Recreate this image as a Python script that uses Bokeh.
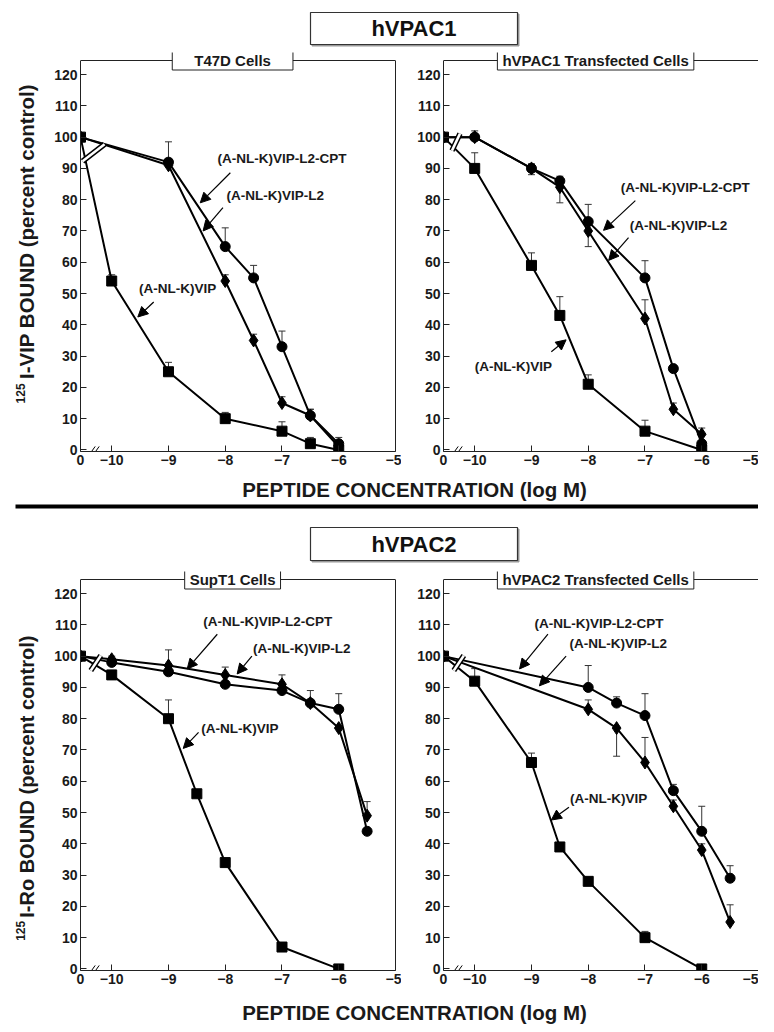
import math
from bokeh.plotting import figure
from bokeh.models import (Range1d, FixedTicker, Label, Arrow, NormalHead, Span,
                          Whisker, TeeHead, ColumnDataSource, LinearAxis)
from bokeh.layouts import column, row
from bokeh.embed import file_html
from bokeh.resources import INLINE
from bokeh.core.properties import value

FONT = "Liberation Sans"

# ---------------- data (x = log M; 0 = control, no peptide) ----------------
x_ticks = [-10, -9, -8, -7, -6, -5]
y_ticks = [0, 10, 20, 30, 40, 50, 60, 70, 80, 90, 100, 110, 120]

# T47D cells
t47d_vip_x = [0, -10, -9, -8, -7, -6.5, -6]
t47d_vip_y = [100, 54, 25, 10, 6, 2, 0]
t47d_vip_up = [0, 2, 3, 2, 3, 2, 0]
t47d_l2_x = [0, -9, -8, -7.5, -7, -6.5, -6]
t47d_l2_y = [100, 91, 54, 35, 15, 11, 1]
t47d_l2_up = [0, 0, 2, 2, 2, 2, 2]
t47d_cpt_x = [0, -9, -8, -7.5, -7, -6.5, -6]
t47d_cpt_y = [100, 92, 65, 55, 33, 11, 2]
t47d_cpt_up = [0, 6.5, 6, 4, 5, 2, 2]

# hVPAC1 transfected cells
v1_vip_x = [0, -10, -9, -8.5, -8, -7, -6]
v1_vip_y = [100, 90, 59, 43, 21, 6, 0]
v1_vip_up = [0, 5, 4, 6, 3, 3.5, 0]
v1_l2_x = [0, -10, -9, -8.5, -8, -7, -6.5, -6]
v1_l2_y = [100, 100, 90, 84, 70, 42, 13, 5]
v1_l2_up = [0, 0, 1.5, 0, 0, 6, 2, 2]
v1_l2_dn = [0, 0, 2, 5, 5, 0, 0, 0]
v1_cpt_x = [0, -10, -9, -8.5, -8, -7, -6.5, -6]
v1_cpt_y = [100, 100, 90, 86, 73, 55, 26, 2]
v1_cpt_up = [0, 2, 0, 1.5, 5.5, 5.5, 0, 0]

# SupT1 cells
sup_vip_x = [0, -10, -9, -8.5, -8, -7, -6]
sup_vip_y = [100, 94, 80, 56, 34, 7, 0]
sup_vip_up = [0, 1, 6, 1, 1, 1, 0]
sup_l2_x = [0, -10, -9, -8, -7, -6.5, -6, -5.5]
sup_l2_y = [100, 99, 97, 94, 91, 85, 77, 49]
sup_l2_up = [0, 1, 5, 2.5, 3, 4, 0, 4.5]
sup_cpt_x = [0, -10, -9, -8, -7, -6.5, -6, -5.5]
sup_cpt_y = [100, 98, 95, 91, 89, 85, 83, 44]
sup_cpt_up = [0, 0, 0, 0, 0, 0, 5, 0]

# hVPAC2 transfected cells
v2_vip_x = [0, -10, -9, -8.5, -8, -7, -6]
v2_vip_y = [100, 92, 66, 39, 28, 10, 0]
v2_vip_up = [0, 4, 3, 1, 0, 2, 0]
v2_l2_x = [0, -8, -7.5, -7, -6.5, -6, -5.5]
v2_l2_y = [100, 83, 77, 66, 52, 38, 15]
v2_l2_up = [0, 3, 0, 8, 2, 2, 5.5]
v2_l2_dn = [0, 0, 9, 0, 0, 0, 0]
v2_cpt_x = [0, -8, -7.5, -7, -6.5, -6, -5.5]
v2_cpt_y = [100, 90, 85, 81, 57, 44, 29]
v2_cpt_up = [0, 7, 2, 7, 2, 8, 4]

LBL_VIP = "(A-NL-K)VIP"
LBL_L2 = "(A-NL-K)VIP-L2"
LBL_CPT = "(A-NL-K)VIP-L2-CPT"

# ---------------- layout constants ----------------
X_ZERO = -10.55          # axis position of the control ("0") point, left of the break
X_MIN, X_MAX = X_ZERO, -5.0
Y_MIN, Y_MAX = -0.5, 124.5
FW, FH = 315, 391
TOP_EXTRA = 8            # room above the plot box for the boxed panel title
PX_X = FW / (X_MAX - X_MIN)
PX_Y = FH / (Y_MAX - Y_MIN)
INK = "#222222"

MARK = {"vip": ("square", 10), "l2": ("diamond", 13), "cpt": ("circle", 10)}


def ser(kind, x, y, up, dn=None):
    return dict(kind=kind, x=x, y=y, up=up, dn=dn or [0] * len(x))


def make_panel(series, subtitle, pad, anns, brk, left_b, right_b, bottom_b):
    p = figure(frame_width=FW, frame_height=FH + TOP_EXTRA,
               x_range=Range1d(X_MIN, X_MAX),
               y_range=Range1d(Y_MIN, Y_MAX + TOP_EXTRA / PX_Y),
               min_border_left=left_b, min_border_right=right_b,
               min_border_top=0, min_border_bottom=bottom_b,
               output_backend="svg", toolbar_location=None)
    p.xgrid.visible = False
    p.ygrid.visible = False
    p.outline_line_color = None
    for ax in (p.xaxis[0], p.yaxis[0]):
        ax.axis_line_color = INK
        ax.major_tick_in = 6
        ax.major_tick_out = 0
        ax.major_tick_line_color = INK
        ax.minor_tick_line_color = None
        ax.major_label_text_font = FONT
        ax.major_label_text_font_style = "bold"
        ax.major_label_text_font_size = "14px"
        ax.major_label_text_color = "#1a1a1a"
        ax.major_label_standoff = 3
    p.xaxis.ticker = FixedTicker(ticks=[X_ZERO] + x_ticks)
    overrides = {X_ZERO: "0"}
    for t in x_ticks:
        overrides[t] = "\u2212" + str(abs(t))
    p.xaxis.major_label_overrides = overrides
    p.yaxis.ticker = FixedTicker(ticks=y_ticks)
    p.yaxis.bounds = (Y_MIN, Y_MAX)
    # right and top edges of the plot box
    rax = LinearAxis(ticker=FixedTicker(ticks=[]), bounds=(Y_MIN, Y_MAX),
                     axis_line_color=INK, major_tick_line_color=None,
                     minor_tick_line_color=None, major_label_text_font_size="0px",
                     major_label_standoff=0, major_tick_out=0, major_tick_in=0)
    p.add_layout(rax, "right")
    p.add_layout(Span(location=Y_MAX, dimension="width", line_color=INK, line_width=1))

    srcs = []
    for s in series:
        xs = [X_ZERO if v == 0 else v for v in s["x"]]
        src = ColumnDataSource(dict(x=xs, y=s["y"]))
        srcs.append((s, xs, src))
        p.line("x", "y", source=src, line_width=2, line_color="black")

    # axis-break marks drawn across the lines just after the control point
    bx, by, hw, hh = brk
    p.segment(x0=[bx - hw / PX_X], y0=[by - hh / PX_Y], x1=[bx + hw / PX_X], y1=[by + hh / PX_Y],
              line_color="black", line_width=5.5)
    p.segment(x0=[bx - hw / PX_X], y0=[by - hh / PX_Y], x1=[bx + hw / PX_X], y1=[by + hh / PX_Y],
              line_color="white", line_width=2.5)
    # "//" on the x axis
    xb = -10.3
    for off in (-2.0, 2.0):
        c = xb + off / PX_X
        p.segment(x0=[c - 2.5 / PX_X], y0=[0 - 3.5 / PX_Y], x1=[c + 2.5 / PX_X], y1=[0 + 3.5 / PX_Y],
                  line_color="black", line_width=1)

    for s, xs, src in srcs:
        ux = [x for x, u in zip(xs, s["up"]) if u > 0]
        if ux:
            uy = [y for y, u in zip(s["y"], s["up"]) if u > 0]
            uu = [y + u for y, u in zip(s["y"], s["up"]) if u > 0]
            ws = ColumnDataSource(dict(x=ux, lo=uy, hi=uu))
            p.add_layout(Whisker(source=ws, base="x", lower="lo", upper="hi", dimension="height",
                                 line_color="#333333", line_width=1,
                                 upper_head=TeeHead(size=7, line_color="#333333", line_width=1),
                                 lower_head=None))
        dx = [x for x, d in zip(xs, s["dn"]) if d > 0]
        if dx:
            dy = [y for y, d in zip(s["y"], s["dn"]) if d > 0]
            dd = [y - d for y, d in zip(s["y"], s["dn"]) if d > 0]
            ws = ColumnDataSource(dict(x=dx, lo=dd, hi=dy))
            p.add_layout(Whisker(source=ws, base="x", lower="lo", upper="hi", dimension="height",
                                 line_color="#333333", line_width=1,
                                 lower_head=TeeHead(size=7, line_color="#333333", line_width=1),
                                 upper_head=None))
    for s, xs, src in srcs:
        m, sz = MARK[s["kind"]]
        p.scatter("x", "y", source=src, marker=m, size=sz, fill_color="black", line_color="black")

    for text, tx, ty, x0, y0, x1, y1 in anns:
        p.add_layout(Label(x=tx, y=ty, text=text, text_font=FONT, text_font_style="bold",
                           text_font_size="13.5px", text_align="center", text_baseline="middle",
                           text_color="#1a1a1a"))
        p.add_layout(Arrow(x_start=x0, y_start=y0, x_end=x1, y_end=y1, line_width=1.2,
                           line_color="black",
                           end=NormalHead(size=10, fill_color="black", line_color="black")))

    p.add_layout(Label(x=-7.87, y=Y_MAX, text=subtitle, text_font=FONT, text_font_style="bold",
                       text_font_size="15px", text_align="center", text_baseline="middle",
                       text_color="#1a1a1a", background_fill_color="white",
                       border_line_color=INK, border_line_width=1,
                       padding=pad))
    return p


def pixel_fig(w, h):
    f = figure(width=w, height=h, x_range=Range1d(0, w), y_range=Range1d(0, h),
               min_border=0, output_backend="svg", toolbar_location=None,
               x_axis_location=None, y_axis_location=None)
    f.xgrid.visible = False
    f.ygrid.visible = False
    f.outline_line_color = None
    return f


def boxed_title(f, text, left, right, bottom, top):
    f.quad(left=[left + 1.5], right=[right + 1.5], bottom=[bottom - 1.5], top=[top - 1.5],
           fill_color="#999999", line_color="#999999", line_width=1)
    f.quad(left=[left], right=[right], bottom=[bottom], top=[top], fill_color="white",
           line_color="#333333", line_width=1.2)
    f.text(x=[(left + right) / 2], y=[(bottom + top) / 2], text=[text],
           text_font=value(FONT), text_font_style="bold", text_font_size="22px",
           text_align="center", text_baseline="middle", text_color="#111111")


def ylab_fig(h, main, main_center, sup_center, size):
    f = pixel_fig(44, h)
    f.text(x=[26], y=[main_center], text=[main], angle=math.pi / 2,
           text_font=value(FONT), text_font_style="bold", text_font_size=size,
           text_align="center", text_baseline="middle", text_color="#1a1a1a")
    f.text(x=[19.5], y=[sup_center], text=["125"], angle=math.pi / 2,
           text_font=value(FONT), text_font_style="bold", text_font_size="12px",
           text_align="center", text_baseline="middle", text_color="#1a1a1a")
    return f


XLAB = "PEPTIDE CONCENTRATION (log M)"

# header
header = pixel_fig(758, 52)
boxed_title(header, "hVPAC1", 310, 517, 8, 40)

# top row
p1 = make_panel(
    [ser("vip", t47d_vip_x, t47d_vip_y, t47d_vip_up),
     ser("l2", t47d_l2_x, t47d_l2_y, t47d_l2_up),
     ser("cpt", t47d_cpt_x, t47d_cpt_y, t47d_cpt_up)],
    "T47D Cells", dict(left=22, right=22, top=1, bottom=1),
    [(LBL_CPT, -7.0, 93.3, -7.91, 88.6, -8.44, 79.0),
     (LBL_L2, -7.12, 81.3, -8.04, 77.5, -8.39, 70.0),
     (LBL_VIP, -8.84, 51.7, -9.26, 47.3, -9.54, 42.5)],
    (-10.32, 95.0, 11, 8.5), 36, 6, 20)
p2 = make_panel(
    [ser("vip", v1_vip_x, v1_vip_y, v1_vip_up),
     ser("l2", v1_l2_x, v1_l2_y, v1_l2_up, v1_l2_dn),
     ser("cpt", v1_cpt_x, v1_cpt_y, v1_cpt_up)],
    "hVPAC1 Transfected Cells", dict(left=5, right=5, top=1, bottom=1),
    [(LBL_CPT, -6.29, 83.8, -7.17, 79.7, -7.73, 70.2),
     (LBL_L2, -6.41, 71.7, -7.29, 67.9, -7.64, 60.6),
     (LBL_VIP, -9.32, 26.7, -8.65, 31.4, -8.39, 35.2)],
    (-10.33, 98.4, 4, 8.5), 42, 0, 20)
ylab1 = ylab_fig(419, "I-VIP BOUND (percent control)", 231, 61, "20.5px")

middle = pixel_fig(758, 100)
middle.text(x=[414], y=[82], text=[XLAB], text_font=value(FONT), text_font_style="bold",
            text_font_size="20.5px", text_align="center", text_baseline="middle",
            text_color="#1a1a1a")
middle.segment(x0=[15], y0=[65], x1=[758], y1=[65], line_color="black", line_width=4)
boxed_title(middle, "hVPAC2", 310, 517, 11, 44)

# bottom row
p3 = make_panel(
    [ser("vip", sup_vip_x, sup_vip_y, sup_vip_up),
     ser("l2", sup_l2_x, sup_l2_y, sup_l2_up),
     ser("cpt", sup_cpt_x, sup_cpt_y, sup_cpt_up)],
    "SupT1 Cells", dict(left=5, right=5, top=1, bottom=1),
    [(LBL_CPT, -7.25, 111.0, -8.14, 107.0, -8.67, 95.9),
     (LBL_L2, -6.65, 102.5, -7.53, 100.0, -7.79, 94.3),
     (LBL_VIP, -7.74, 76.8, -8.47, 75.6, -8.74, 70.5)],
    (-10.28, 97.8, 5, 7.5), 36, 6, 23)
p4 = make_panel(
    [ser("vip", v2_vip_x, v2_vip_y, v2_vip_up),
     ser("l2", v2_l2_x, v2_l2_y, v2_l2_up, v2_l2_dn),
     ser("cpt", v2_cpt_x, v2_cpt_y, v2_cpt_up)],
    "hVPAC2 Transfected Cells", dict(left=5, right=5, top=1, bottom=1),
    [(LBL_CPT, -7.81, 110.5, -8.71, 107.0, -9.21, 95.9),
     (LBL_L2, -7.47, 104.0, -8.39, 100.0, -8.86, 90.5),
     (LBL_VIP, -7.64, 54.6, -8.34, 51.7, -8.65, 47.6)],
    (-10.28, 97.8, 5, 7.5), 42, 0, 23)
ylab2 = ylab_fig(422, "I-Ro BOUND (percent control)", 205, 42, "20px")

footer = pixel_fig(758, 31)
footer.text(x=[414], y=[12], text=[XLAB], text_font=value(FONT), text_font_style="bold",
            text_font_size="20.5px", text_align="center", text_baseline="middle",
            text_color="#1a1a1a")

layout = column(header, row(ylab1, p1, p2), middle, row(ylab2, p3, p4), footer)

with open("out.html", "w") as fh:
    fh.write(file_html(layout, INLINE))
